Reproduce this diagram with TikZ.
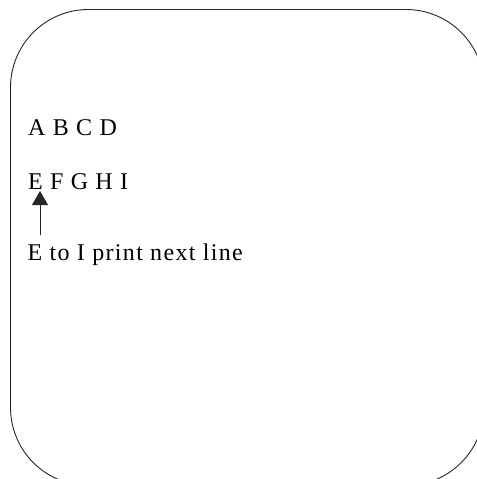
\documentclass[tikz,border=0pt]{standalone}
\usepackage{fontspec}
\setmainfont{Liberation Serif}[LetterSpace=5.5]
\usetikzlibrary{arrows.meta}
\begin{document}
\begin{tikzpicture}[x=1bp,y=-1bp,
  txt/.style={inner sep=0pt, anchor=base west, font=\fontsize{24bp}{28bp}\selectfont},
  frame/.style={draw=black!85, line width=0.9bp, rounded corners=78bp},
  pointer/.style={draw=black!85, line width=0.8bp, -{Triangle[width=16bp,length=14bp]}}]
\useasboundingbox (0,0) rectangle (477,479);
\clip (0,0) rectangle (477,479);
\draw[frame] (10.5,9.5) rectangle (484,485.5);
\node[txt] (row1) at (28,136) {A B C D};
\node[txt] (row2) at (28,190) {E F G H I};
\node[txt] (note) at (27.5,260.5) {E to I print next line};
\coordinate (tail) at (40,235);
\coordinate (head) at (40,191);
\draw[pointer] (tail) -- (head);
\end{tikzpicture}
\end{document}
